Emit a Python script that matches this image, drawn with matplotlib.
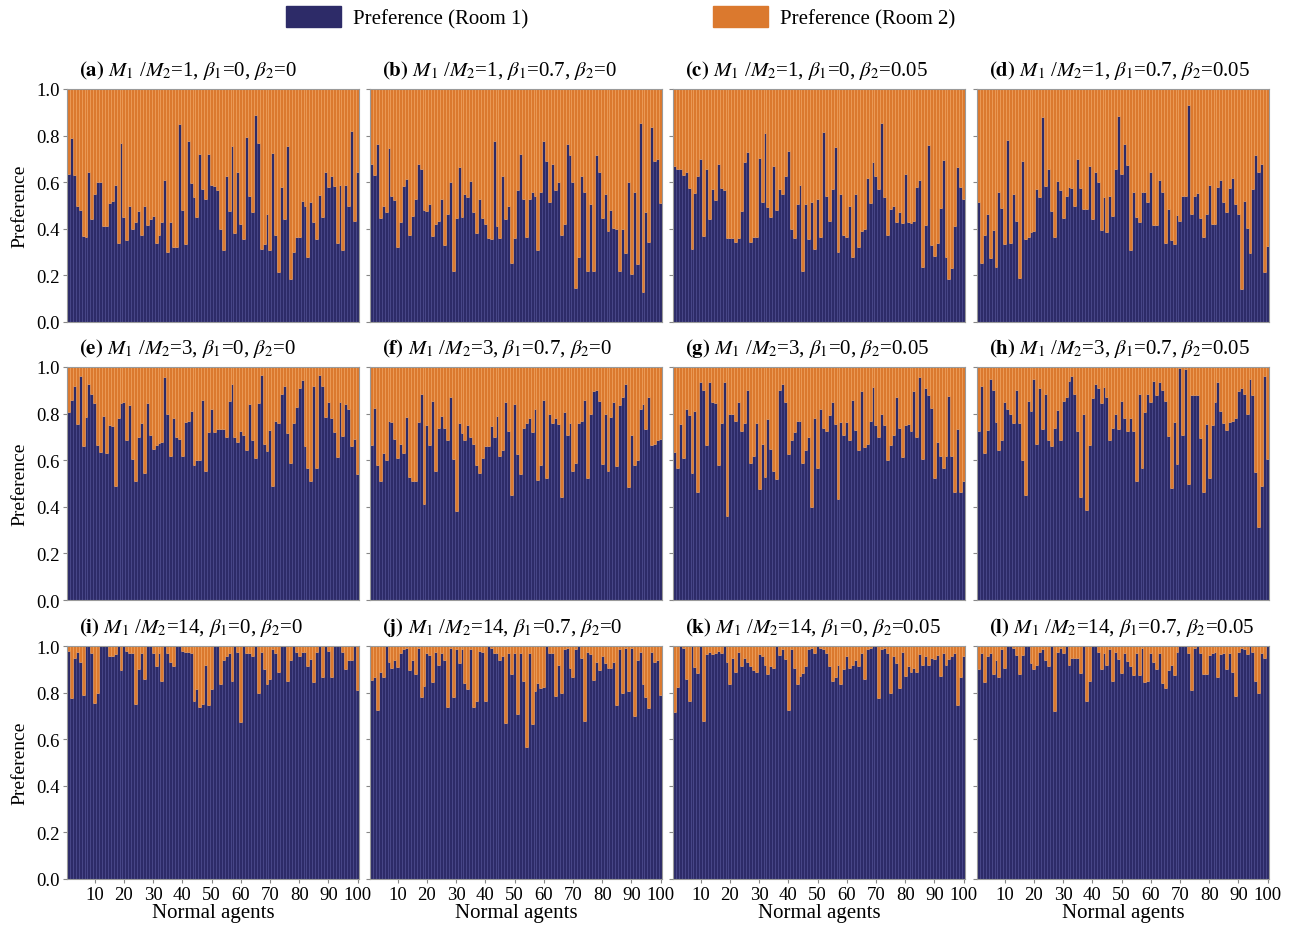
import numpy as np
import matplotlib
matplotlib.use("Agg")  # no display
import matplotlib.pyplot as plt
from matplotlib.patches import Patch

# preference for room 1 of each of the 100 normal agents, one list per panel
pref_a = [0.635, 0.79, 0.63, 0.5, 0.48, 0.37, 0.365, 0.645, 0.44, 0.55,
          0.6, 0.6, 0.41, 0.41, 0.51, 0.52, 0.59, 0.34, 0.77, 0.45,
          0.35, 0.5, 0.4, 0.43, 0.475, 0.375, 0.5, 0.415, 0.44, 0.457,
          0.34, 0.375, 0.43, 0.61, 0.3, 0.43, 0.32, 0.32, 0.85, 0.48,
          0.335, 0.775, 0.595, 0.535, 0.45, 0.72, 0.57, 0.53, 0.72, 0.59,
          0.585, 0.565, 0.4, 0.31, 0.625, 0.475, 0.755, 0.38, 0.645, 0.42,
          0.355, 0.795, 0.54, 0.47, 0.89, 0.77, 0.315, 0.335, 0.465, 0.31,
          0.725, 0.375, 0.215, 0.58, 0.44, 0.755, 0.185, 0.3, 0.365, 0.365,
          0.52, 0.5, 0.28, 0.515, 0.43, 0.355, 0.545, 0.45, 0.645, 0.58,
          0.625, 0.585, 0.34, 0.59, 0.31, 0.59, 0.5, 0.82, 0.435, 0.645]
pref_b = [0.68, 0.63, 0.765, 0.445, 0.5, 0.47, 0.745, 0.54, 0.525, 0.32,
          0.43, 0.585, 0.615, 0.375, 0.455, 0.53, 0.68, 0.655, 0.48, 0.475,
          0.505, 0.37, 0.42, 0.435, 0.53, 0.33, 0.465, 0.6, 0.22, 0.445,
          0.665, 0.45, 0.55, 0.535, 0.605, 0.47, 0.38, 0.53, 0.445, 0.42,
          0.36, 0.355, 0.775, 0.41, 0.36, 0.625, 0.44, 0.5, 0.255, 0.36,
          0.565, 0.72, 0.53, 0.365, 0.53, 0.56, 0.54, 0.31, 0.56, 0.775,
          0.69, 0.515, 0.68, 0.565, 0.6, 0.375, 0.42, 0.765, 0.715, 0.6,
          0.145, 0.28, 0.625, 0.56, 0.22, 0.505, 0.22, 0.715, 0.645, 0.445,
          0.55, 0.39, 0.48, 0.405, 0.4, 0.22, 0.4, 0.295, 0.6, 0.205,
          0.56, 0.25, 0.855, 0.13, 0.47, 0.345, 0.835, 0.69, 0.7, 0.51]
pref_c = [0.67, 0.655, 0.655, 0.63, 0.645, 0.575, 0.315, 0.555, 0.625, 0.7,
          0.37, 0.655, 0.44, 0.57, 0.525, 0.68, 0.575, 0.565, 0.36, 0.36,
          0.36, 0.345, 0.36, 0.475, 0.685, 0.73, 0.345, 0.365, 0.365, 0.705,
          0.515, 0.81, 0.495, 0.45, 0.67, 0.48, 0.57, 0.55, 0.625, 0.735,
          0.4, 0.36, 0.505, 0.59, 0.22, 0.505, 0.355, 0.515, 0.315, 0.53,
          0.365, 0.815, 0.54, 0.435, 0.57, 0.75, 0.3, 0.55, 0.375, 0.365,
          0.5, 0.28, 0.55, 0.32, 0.39, 0.4, 0.62, 0.51, 0.685, 0.625,
          0.57, 0.855, 0.535, 0.375, 0.485, 0.5, 0.43, 0.47, 0.425, 0.635,
          0.43, 0.425, 0.435, 0.58, 0.61, 0.235, 0.415, 0.76, 0.33, 0.285,
          0.34, 0.49, 0.695, 0.28, 0.185, 0.23, 0.41, 0.665, 0.58, 0.53]
pref_d = [0.515, 0.255, 0.375, 0.465, 0.275, 0.395, 0.235, 0.56, 0.49, 0.335,
          0.78, 0.34, 0.55, 0.435, 0.19, 0.69, 0.355, 0.365, 0.385, 0.39,
          0.57, 0.535, 0.88, 0.585, 0.655, 0.475, 0.365, 0.605, 0.565, 0.445,
          0.54, 0.58, 0.575, 0.5, 0.7, 0.575, 0.485, 0.485, 0.67, 0.44,
          0.645, 0.6, 0.395, 0.535, 0.385, 0.54, 0.455, 0.655, 0.885, 0.635,
          0.765, 0.675, 0.31, 0.56, 0.45, 0.43, 0.56, 0.56, 0.515, 0.645,
          0.415, 0.415, 0.61, 0.56, 0.34, 0.485, 0.35, 0.335, 0.46, 0.435,
          0.54, 0.54, 0.93, 0.465, 0.54, 0.555, 0.445, 0.365, 0.465, 0.59,
          0.42, 0.42, 0.58, 0.61, 0.515, 0.47, 0.575, 0.62, 0.505, 0.465,
          0.14, 0.52, 0.405, 0.295, 0.57, 0.715, 0.645, 0.68, 0.215, 0.325]
pref_e = [0.805, 0.86, 0.92, 0.755, 0.96, 0.66, 0.785, 0.925, 0.885, 0.845,
          0.665, 0.635, 0.79, 0.63, 0.75, 0.745, 0.49, 0.78, 0.845, 0.85,
          0.685, 0.835, 0.605, 0.51, 0.7, 0.76, 0.545, 0.845, 0.71, 0.65,
          0.665, 0.675, 0.68, 0.955, 0.8, 0.62, 0.78, 0.7, 0.69, 0.62,
          0.765, 0.77, 0.81, 0.58, 0.6, 0.6, 0.86, 0.555, 0.72, 0.82,
          0.72, 0.735, 0.735, 0.735, 0.7, 0.855, 0.925, 0.7, 0.68, 0.725,
          0.71, 0.645, 0.84, 0.685, 0.61, 0.845, 0.965, 0.67, 0.64, 0.73,
          0.49, 0.77, 0.76, 0.885, 0.92, 0.715, 0.59, 0.76, 0.83, 0.91,
          0.945, 0.66, 0.565, 0.51, 0.92, 0.565, 0.965, 0.92, 0.785, 0.85,
          0.78, 0.72, 0.615, 0.85, 0.705, 0.84, 0.82, 0.66, 0.69, 0.54]
pref_f = [0.665, 0.825, 0.58, 0.51, 0.63, 0.6, 0.77, 0.765, 0.69, 0.61,
          0.67, 0.63, 0.785, 0.53, 0.51, 0.51, 0.765, 0.885, 0.41, 0.75,
          0.665, 0.855, 0.555, 0.74, 0.79, 0.74, 0.685, 0.87, 0.605, 0.38,
          0.76, 0.715, 0.685, 0.75, 0.7, 0.67, 0.58, 0.545, 0.61, 0.66,
          0.66, 0.745, 0.7, 0.79, 0.62, 0.645, 0.85, 0.725, 0.45, 0.84,
          0.625, 0.54, 0.74, 0.76, 0.78, 0.72, 0.82, 0.515, 0.58, 0.86,
          0.525, 0.8, 0.76, 0.78, 0.755, 0.44, 0.805, 0.71, 0.76, 0.555,
          0.59, 0.76, 0.77, 0.86, 0.525, 0.8, 0.895, 0.9, 0.855, 0.585,
          0.8, 0.555, 0.785, 0.85, 0.575, 0.835, 0.87, 0.925, 0.485, 0.71,
          0.58, 0.6, 0.82, 0.84, 0.735, 0.87, 0.665, 0.67, 0.685, 0.69]
pref_g = [0.635, 0.565, 0.755, 0.61, 0.82, 0.795, 0.545, 0.81, 0.465, 0.935,
          0.9, 0.665, 0.935, 0.85, 0.845, 0.58, 0.76, 0.935, 0.36, 0.8,
          0.8, 0.77, 0.85, 0.725, 0.76, 0.9, 0.59, 0.62, 0.76, 0.475,
          0.67, 0.53, 0.775, 0.65, 0.555, 0.52, 0.9, 0.925, 0.85, 0.625,
          0.685, 0.72, 0.77, 0.77, 0.59, 0.645, 0.7, 0.4, 0.78, 0.565,
          0.82, 0.74, 0.725, 0.795, 0.85, 0.755, 0.435, 0.765, 0.71, 0.765,
          0.685, 0.86, 0.73, 0.645, 0.895, 0.655, 0.67, 0.77, 0.915, 0.75,
          0.7, 0.8, 0.75, 0.6, 0.665, 0.71, 0.87, 0.74, 0.615, 0.75,
          0.755, 0.725, 0.895, 0.7, 0.955, 0.605, 0.91, 0.88, 0.825, 0.525,
          0.68, 0.62, 0.565, 0.62, 0.875, 0.62, 0.465, 0.735, 0.465, 0.51]
pref_h = [0.725, 0.92, 0.63, 0.73, 0.95, 0.9, 0.765, 0.645, 0.685, 0.85,
          0.82, 0.8, 0.76, 0.9, 0.76, 0.6, 0.45, 0.855, 0.81, 0.95,
          0.67, 0.91, 0.735, 0.885, 0.685, 0.66, 0.74, 0.815, 0.685, 0.855,
          0.87, 0.94, 0.96, 0.885, 0.725, 0.44, 0.8, 0.385, 0.665, 0.865,
          0.925, 0.91, 0.845, 0.915, 0.87, 0.685, 0.74, 0.8, 0.735, 0.855,
          0.78, 0.725, 0.78, 0.725, 0.51, 0.885, 0.565, 0.805, 0.885, 0.85,
          0.94, 0.88, 0.935, 0.9, 0.855, 0.705, 0.48, 0.765, 0.585, 0.995,
          0.71, 0.99, 0.5, 0.88, 0.88, 0.88, 0.695, 0.465, 0.755, 0.525,
          0.75, 0.85, 0.935, 0.81, 0.76, 0.73, 0.765, 0.77, 0.78, 0.895,
          0.91, 0.885, 0.8, 0.95, 0.88, 0.55, 0.315, 0.49, 0.96, 0.605]
pref_i = [0.98, 0.775, 0.95, 0.975, 0.93, 0.79, 1.0, 1.0, 0.97, 0.755,
          0.8, 1.0, 1.0, 1.0, 0.955, 0.955, 0.965, 1.0, 0.895, 1.0,
          0.98, 0.97, 0.97, 0.75, 0.9, 0.97, 0.86, 1.0, 1.0, 0.97,
          0.915, 0.97, 0.85, 1.0, 0.97, 0.93, 0.915, 1.0, 1.0, 0.98,
          0.975, 0.975, 0.97, 0.765, 0.815, 0.74, 0.75, 0.92, 0.745, 0.815,
          1.0, 1.0, 0.835, 0.94, 0.955, 0.97, 0.85, 1.0, 0.975, 0.675,
          1.0, 0.97, 0.97, 0.955, 1.0, 0.8, 0.975, 0.9, 0.835, 0.86,
          0.985, 0.97, 0.89, 1.0, 1.0, 0.85, 0.94, 1.0, 0.975, 0.955,
          0.975, 0.975, 0.915, 0.945, 0.845, 0.975, 1.0, 0.865, 1.0, 0.98,
          0.865, 1.0, 1.0, 1.0, 0.975, 0.9, 0.94, 0.94, 1.0, 0.81]
pref_j = [0.855, 0.865, 0.725, 0.89, 0.865, 1.0, 0.93, 0.905, 0.94, 0.91,
          0.97, 0.985, 0.99, 0.895, 0.94, 0.88, 0.99, 0.78, 0.83, 0.97,
          0.96, 0.845, 0.975, 0.92, 0.97, 0.94, 0.74, 0.99, 0.78, 0.985,
          0.925, 0.985, 0.84, 0.815, 0.985, 0.74, 0.765, 0.98, 0.975, 0.765,
          1.0, 0.99, 0.97, 0.97, 0.94, 0.955, 0.67, 0.97, 0.88, 0.97,
          0.71, 0.97, 0.85, 0.565, 0.97, 0.665, 0.805, 0.84, 0.82, 0.825,
          1.0, 0.97, 0.97, 0.785, 0.92, 0.8, 0.985, 0.99, 0.905, 0.865,
          0.985, 1.0, 0.95, 0.68, 0.975, 0.965, 0.855, 0.93, 0.895, 0.955,
          0.925, 0.905, 0.905, 0.93, 0.745, 0.985, 0.8, 0.99, 0.805, 0.99,
          0.7, 0.94, 0.975, 0.835, 0.78, 0.735, 0.975, 0.93, 0.94, 0.79]
pref_k = [0.715, 0.825, 1.0, 0.99, 0.86, 0.765, 1.0, 0.91, 0.885, 1.0,
          0.68, 0.965, 0.975, 0.965, 0.97, 0.98, 0.97, 1.0, 0.93, 0.835,
          0.95, 0.89, 0.975, 0.915, 0.95, 0.93, 0.915, 0.895, 0.89, 0.965,
          0.955, 0.92, 0.88, 0.915, 0.905, 1.0, 0.96, 0.985, 0.945, 0.725,
          0.985, 0.905, 0.835, 0.87, 0.885, 0.915, 0.985, 0.99, 0.97, 1.0,
          0.99, 0.985, 0.97, 0.915, 0.85, 0.865, 0.92, 0.835, 0.9, 0.955,
          0.905, 0.92, 0.94, 0.915, 0.97, 0.86, 0.985, 0.99, 1.0, 1.0,
          0.775, 0.985, 0.99, 0.97, 0.8, 0.955, 0.925, 0.82, 0.975, 0.87,
          0.915, 0.89, 0.905, 0.89, 0.965, 0.92, 0.955, 0.92, 0.95, 0.945,
          0.96, 0.87, 0.97, 0.92, 0.945, 0.955, 0.97, 0.745, 0.865, 0.955]
pref_l = [0.9, 0.97, 0.845, 0.955, 0.97, 0.88, 0.94, 0.865, 0.985, 0.905,
          1.0, 1.0, 0.99, 0.96, 0.88, 0.96, 1.0, 1.0, 0.925, 0.9,
          0.92, 0.975, 0.985, 0.94, 0.915, 1.0, 0.72, 0.975, 0.99, 0.97,
          1.0, 0.92, 0.95, 0.95, 0.95, 0.885, 1.0, 0.765, 0.85, 1.0,
          1.0, 0.975, 0.9, 0.97, 0.92, 0.985, 0.85, 0.975, 0.945, 0.885,
          0.97, 0.935, 0.915, 0.875, 0.97, 0.875, 0.99, 0.845, 0.85, 0.97,
          0.93, 0.9, 0.97, 0.84, 0.82, 0.895, 0.92, 0.875, 0.975, 1.0,
          1.0, 1.0, 0.97, 0.81, 0.99, 1.0, 0.97, 0.88, 0.88, 0.96,
          0.97, 0.975, 0.865, 0.965, 0.97, 0.9, 0.97, 0.89, 0.785, 0.975,
          0.99, 0.985, 0.965, 1.0, 0.975, 0.85, 0.8, 0.97, 0.95, 1.0]

panels = [pref_a, pref_b, pref_c, pref_d, pref_e, pref_f,
          pref_g, pref_h, pref_i, pref_j, pref_k, pref_l]
panel_tags = list("abcdefghijkl")
mass_ratio = [1, 1, 1, 1, 3, 3, 3, 3, 14, 14, 14, 14]
beta1 = ["0", "0.7", "0", "0.7"] * 3
beta2 = ["0", "0", "0.05", "0.05"] * 3

agents = np.arange(1, 101)
x_ticks = [10, 20, 30, 40, 50, 60, 70, 80, 90, 100]
y_ticks = [0.0, 0.2, 0.4, 0.6, 0.8, 1.0]

BLUE = "#2D2B68"
ORANGE = "#DB792E"

plt.rcParams['font.family'] = ['Liberation Serif', 'DejaVu Serif']
plt.rcParams['mathtext.fontset'] = 'stix'

W, H = 1294, 929
fig = plt.figure(figsize=(W / 100, H / 100), dpi=100)

lefts = [67, 370, 673, 977]
tops = [90, 368, 647]
aw, ah = 292, 233

for k, pref in enumerate(panels):
    r, c = divmod(k, 4)
    ax = fig.add_axes([lefts[c] / W, 1 - (tops[r] + ah) / H, aw / W, ah / H])
    p = np.array(pref)
    ax.bar(agents, p, width=1.0, color=BLUE, edgecolor="#45458C", linewidth=0.4)
    ax.bar(agents, 1 - p, bottom=p, width=1.0, color=ORANGE,
           edgecolor="#F0A05A", linewidth=0.4)
    ax.set_xlim(0.5, 100.5)
    ax.set_ylim(0, 1)
    ax.set_yticks(y_ticks)
    ax.set_xticks(x_ticks)
    ax.tick_params(direction='out', length=3, color='#888888', labelsize=13.5,
                   pad=2)
    if c == 0:
        ax.set_yticklabels([f"{v:.1f}" for v in y_ticks])
        ax.set_ylabel("Preference", fontsize=14, labelpad=6)
    else:
        ax.set_yticklabels([])
    if r == 2:
        ax.set_xlabel("Normal agents", fontsize=15, labelpad=0)
    else:
        ax.set_xticklabels([])
        ax.tick_params(axis='x', length=0)
    for s in ax.spines.values():
        s.set_color('#9A9A9A')
        s.set_linewidth(0.8)

    title = (rf"$\mathbf{{({panel_tags[k]})}}$ $M_1$ /$M_2$={mass_ratio[k]}, "
             rf"$\beta_1$={beta1[k]}, $\beta_2$={beta2[k]}")
    ax.text(0.04, 1.035, title, transform=ax.transAxes, fontsize=15,
            ha='left', va='bottom')

handles = [Patch(facecolor=BLUE, edgecolor=BLUE),
           Patch(facecolor=ORANGE, edgecolor=ORANGE)]
fig.legend(handles, ["Preference (Room 1)", "Preference (Room 2)"],
           loc='upper center', bbox_to_anchor=(0.4795, 1.013), ncol=2,
           frameon=False, fontsize=15, handlelength=2.65, handleheight=1.2,
           columnspacing=8.9, handletextpad=0.55)

fig.savefig("out.png", dpi=100)
